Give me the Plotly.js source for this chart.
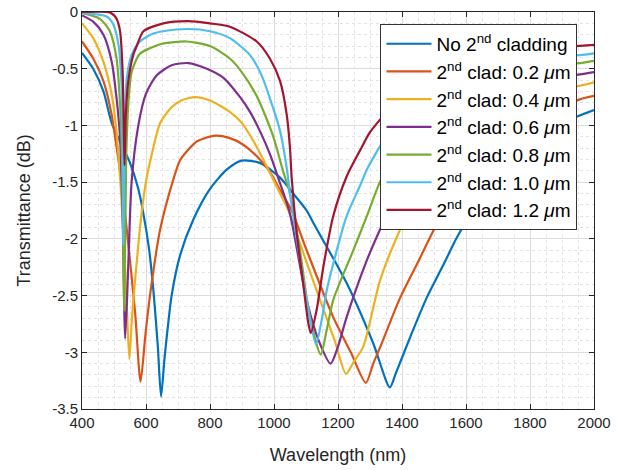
<!DOCTYPE html>
<html>
<head>
<meta charset="utf-8">
<script src="https://cdn.plot.ly/plotly-3.0.1.min.js"></script>
<style>html,body{margin:0;padding:0;background:#fff;}#chart{width:636px;height:470px;}</style>
</head>
<body>
<div id="chart"></div>
<script>
const seriesNames = [
  'No 2<sup>nd</sup> cladding',
  '2<sup>nd</sup> clad: 0.2 <i>\u03bc</i>m',
  '2<sup>nd</sup> clad: 0.4 <i>\u03bc</i>m',
  '2<sup>nd</sup> clad: 0.6 <i>\u03bc</i>m',
  '2<sup>nd</sup> clad: 0.8 <i>\u03bc</i>m',
  '2<sup>nd</sup> clad: 1.0 <i>\u03bc</i>m',
  '2<sup>nd</sup> clad: 1.2 <i>\u03bc</i>m'
];
const seriesColors = ['#0072BD','#D95319','#EDB120','#7E2F8E','#77AC30','#4DBEEE','#A2142F'];

// No 2nd cladding
const wlNone = [400,435,467,493,520,550,575,592,610,623,637,647,658,668,680,706,748,800,852,899,956,1019,1060,1102,1123,1227,1310,1362,1380,1425,1477,1529,1571,1600,1700,1800,1900,2000];
const trNone = [-0.36,-0.50,-0.70,-0.98,-1.15,-1.33,-1.55,-1.78,-2.1,-2.45,-2.95,-3.39,-3.05,-2.78,-2.5,-2.15,-1.83,-1.56,-1.39,-1.31,-1.33,-1.46,-1.6,-1.75,-1.86,-2.39,-2.92,-3.31,-3.19,-2.87,-2.52,-2.23,-1.99,-1.85,-1.45,-1.17,-0.98,-0.865];
// 0.2 um
const wl02 = [400,435,467,493,498,520,540,566,583,598,612,644,685,706,727,760,816,860,904,956,987,1019,1055,1102,1185,1240,1287,1310,1331,1394,1456,1487,1550,1650,1750,1850,1956,2000];
const tr02 = [-0.26,-0.41,-0.61,-0.91,-1.0,-1.43,-1.92,-2.65,-3.26,-2.85,-2.51,-1.92,-1.48,-1.31,-1.23,-1.14,-1.09,-1.11,-1.17,-1.30,-1.41,-1.57,-1.75,-2.10,-2.69,-3.0,-3.27,-3.1,-2.96,-2.52,-2.17,-1.99,-1.65,-1.30,-1.07,-0.91,-0.77,-0.74];
// 0.4 um
const wl04 = [400,435,467,493,508,520,530,540,548,556,566,586,602,612,644,680,710,753,800,862,900,946,1019,1045,1081,1144,1190,1225,1250,1279,1331,1383,1450,1550,1650,1750,1850,1956,2000];
const tr04 = [-0.10,-0.23,-0.44,-0.73,-1.06,-1.5,-2.0,-2.6,-3.06,-2.7,-2.36,-1.78,-1.46,-1.33,-0.98,-0.84,-0.78,-0.75,-0.78,-0.88,-0.98,-1.19,-1.6,-1.75,-2.04,-2.54,-2.9,-3.19,-3.08,-2.95,-2.37,-1.99,-1.6,-1.20,-0.95,-0.80,-0.70,-0.65,-0.62];
// 0.6 um
const wl06 = [400,435,467,493,508,519,527,535,545,555,576,600,633,680,732,790,842,894,925,956,987,1019,1050,1102,1140,1177,1200,1227,1290,1331,1400,1500,1600,1700,1800,1900,1956,2000];
const tr06 = [-0.03,-0.085,-0.20,-0.44,-0.76,-1.11,-1.8,-2.88,-2.2,-1.5,-1.0,-0.72,-0.56,-0.47,-0.45,-0.5,-0.58,-0.75,-0.88,-1.05,-1.25,-1.51,-1.78,-2.54,-2.9,-3.10,-2.95,-2.69,-2.19,-1.92,-1.5,-1.1,-0.85,-0.70,-0.62,-0.57,-0.55,-0.53];
// 0.8 um
const wl08 = [400,456,487,508,519,526,532,538,545,555,580,612,650,727,800,862,894,946,998,1029,1050,1081,1112,1146,1165,1185,1248,1290,1331,1400,1500,1600,1700,1800,1900,1956,2000];
const tr08 = [-0.01,-0.06,-0.17,-0.41,-0.82,-1.4,-2.63,-1.3,-0.8,-0.53,-0.37,-0.32,-0.28,-0.26,-0.3,-0.41,-0.51,-0.74,-1.1,-1.41,-1.6,-2.10,-2.69,-3.02,-2.8,-2.54,-2.10,-1.8,-1.50,-1.15,-0.85,-0.68,-0.57,-0.50,-0.46,-0.45,-0.43];
// 1.0 um
const wl10 = [400,477,498,514,524,529,534,540,555,581,623,653,732,800,862,925,960,987,1019,1040,1050,1071,1102,1131,1150,1165,1227,1269,1290,1334,1400,1500,1600,1700,1800,1900,1956,2000];
const tr10 = [-0.01,-0.04,-0.11,-0.29,-0.67,-2.05,-1.0,-0.58,-0.38,-0.26,-0.19,-0.17,-0.15,-0.17,-0.23,-0.38,-0.55,-0.76,-1.05,-1.38,-1.6,-2.0,-2.54,-2.93,-2.7,-2.45,-1.80,-1.53,-1.39,-1.17,-0.85,-0.6,-0.48,-0.42,-0.39,-0.38,-0.38,-0.365];
// 1.2 um
const wl12 = [400,487,500,508,519,527,531,533,537,545,560,571,592,654,731,800,862,946,987,1019,1040,1050,1055,1071,1091,1107,1115,1133,1154,1185,1227,1269,1300,1337,1400,1500,1600,1700,1800,1900,2000];
const tr12 = [0,-0.003,-0.03,-0.06,-0.17,-0.53,-1.1,-1.35,-0.9,-0.6,-0.38,-0.3,-0.17,-0.10,-0.08,-0.1,-0.13,-0.26,-0.41,-0.61,-0.91,-1.2,-1.45,-1.95,-2.39,-2.74,-2.83,-2.63,-2.25,-1.8,-1.45,-1.22,-1.06,-0.93,-0.72,-0.52,-0.42,-0.36,-0.33,-0.31,-0.29];

const xTickVals = [400,600,800,1000,1200,1400,1600,1800,2000];
const yTickVals = [0,-0.5,-1,-1.5,-2,-2.5,-3,-3.5];
const yTickText = ['0','-0.5','-1','-1.5','-2','-2.5','-3','-3.5'];

const wls = [wlNone, wl02, wl04, wl06, wl08, wl10, wl12];
const trs = [trNone, tr02, tr04, tr06, tr08, tr10, tr12];

const FONT = '"Liberation Sans", Arial, Helvetica, sans-serif';
const traces = wls.map((w, i) => ({
  type: 'scatter', mode: 'lines', x: w, y: trs[i], name: seriesNames[i],
  line: {color: seriesColors[i], width: 2.2, shape: 'spline', smoothing: 0.7}
}));

const axisCommon = {
  showline: true, linecolor: '#262626', linewidth: 1, mirror: 'allticks',
  ticks: 'inside', ticklen: 5, tickcolor: '#262626', zeroline: false,
  showgrid: true, gridcolor: '#dcdcdc', gridwidth: 1,
  tickfont: {family: FONT, size: 15, color: '#262626'}
};

const layout = {
  width: 636, height: 470,
  margin: {l: 82, r: 42, t: 12, b: 61},
  paper_bgcolor: '#fff', plot_bgcolor: '#fff',
  font: {family: FONT, color: '#262626'},
  showlegend: true,
  xaxis: Object.assign({}, axisCommon, {
    range: [400, 2000], tickvals: xTickVals,
    minor: {dtick: 50, showgrid: true, gridcolor: '#e3e3e3', griddash: 'dot', gridwidth: 1, ticks: ''},
    title: {text: 'Wavelength (nm)', font: {family: FONT, size: 18, color: '#262626'}, standoff: 18}
  }),
  yaxis: Object.assign({}, axisCommon, {
    range: [-3.5, 0], tickvals: yTickVals, ticktext: yTickText,
    minor: {dtick: 0.1, showgrid: true, gridcolor: '#e3e3e3', griddash: 'dot', gridwidth: 1, ticks: ''},
    title: {text: 'Transmittance (dB)', font: {family: FONT, size: 18, color: '#262626'}, standoff: 16}
  }),
  legend: {
    x: 0.583, y: 0.97, xanchor: 'left', yanchor: 'top',
    bgcolor: '#ffffff', bordercolor: '#333333', borderwidth: 1,
    font: {family: FONT, size: 19, color: '#000'},
    itemwidth: 45, tracegroupgap: 0
  }
};

Plotly.newPlot('chart', traces, layout, {displayModeBar: false, staticPlot: true});
</script>
</body>
</html>
